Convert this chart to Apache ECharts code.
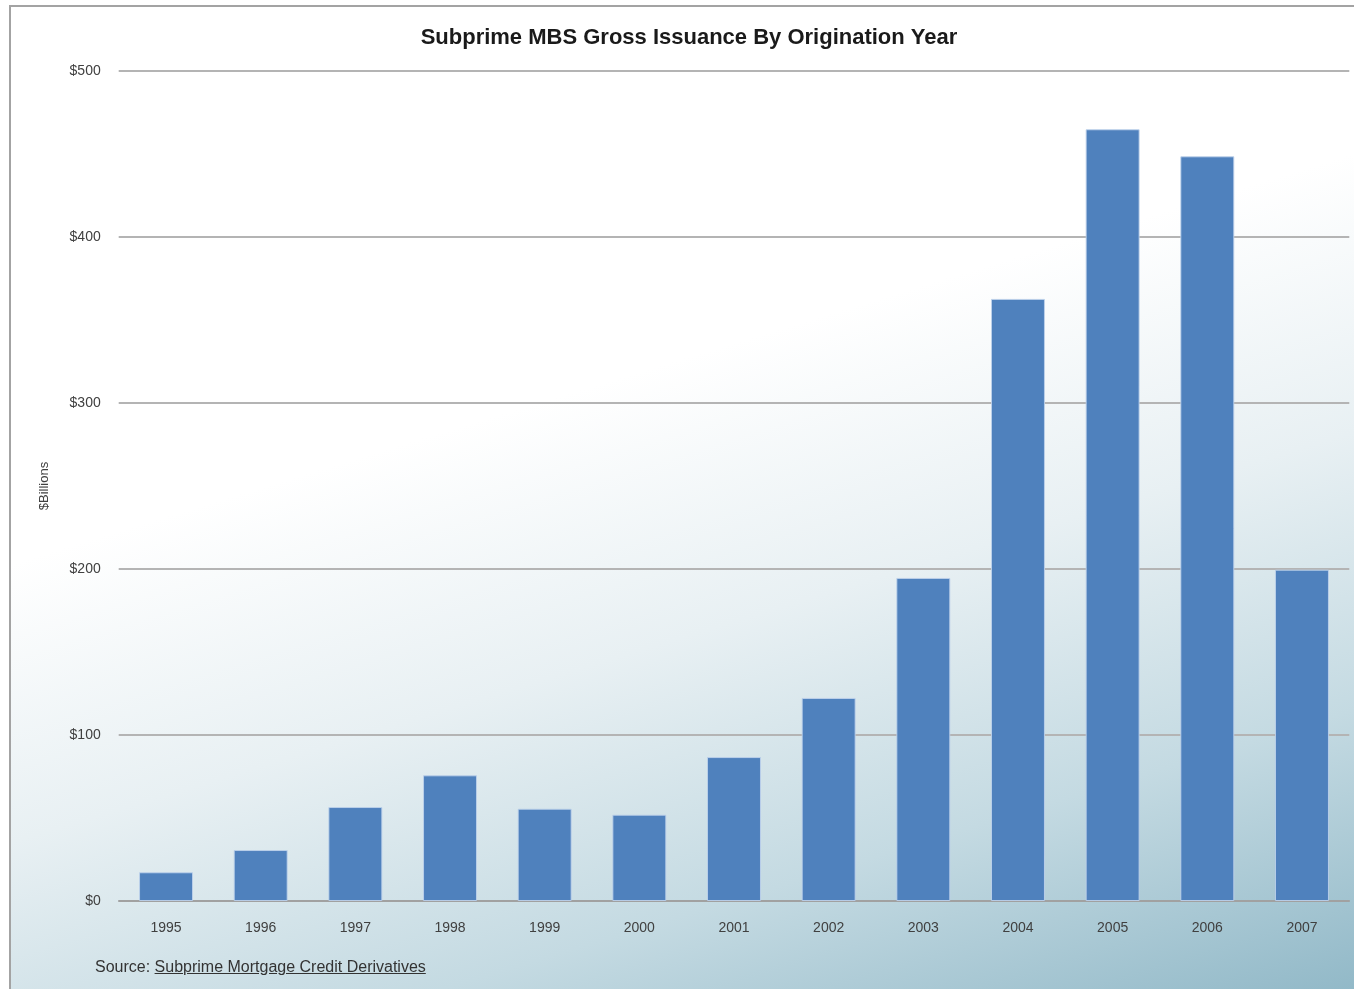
<!DOCTYPE html>
<html>
<head>
<meta charset="utf-8">
<script src="https://cdn.jsdelivr.net/npm/echarts@6/dist/echarts.min.js"></script>
<style>
  html, body { margin: 0; padding: 0; background: #ffffff; }
  .frame {
    position: absolute; left: 9px; top: 5px; width: 1345px; height: 984px;
    border-left: 2px solid #a3a3a3; border-top: 2px solid #a3a3a3;
    box-sizing: border-box;
    background: linear-gradient(163deg, #ffffff 0%, #ffffff 40%, #e8f0f3 60%, #c4dae2 80%, #92b9c8 100%);
  }
  #chart { position: absolute; left: 0; top: 0; width: 1354px; height: 989px; }
  .source {
    position: absolute; left: 95px; top: 958px;
    font-family: "Liberation Sans", Arial, sans-serif; font-size: 16px; color: #333;
  }
  .source span { text-decoration: underline; }
</style>
</head>
<body>
<div class="frame"></div>
<div id="chart"></div>
<div class="source">Source: <span>Subprime Mortgage Credit Derivatives</span></div>
<script>
// 数据
const years = ['1995', '1996', '1997', '1998', '1999', '2000', '2001', '2002', '2003', '2004', '2005', '2006', '2007']
const issuance = [17.3, 30.7, 56.6, 75.7, 55.6, 52, 86.7, 122.3, 194.6, 362.7, 464.9, 448.6, 199.6]
const yTicks = [0, 100, 200, 300, 400, 500]

const myChart = echarts.init(document.getElementById('chart'))

const font = '"Liberation Sans", Arial, sans-serif'

myChart.setOption({
  backgroundColor: 'transparent',
  animation: false,
  title: {
    text: 'Subprime MBS Gross Issuance By Origination Year',
    left: 684,
    top: 22,
    textAlign: 'center',
    textStyle: { fontFamily: font, fontSize: 22, fontWeight: 'bold', color: '#1a1a1a' }
  },
  grid: { left: 118.7, right: 4.7, top: 71, bottom: 88 },
  xAxis: {
    type: 'category',
    data: years,
    axisLine: { lineStyle: { color: '#9a9a9a', width: 1.5 } },
    axisTick: { show: false },
    axisLabel: { margin: 20, fontFamily: font, fontSize: 14, color: '#404040' }
  },
  yAxis: {
    type: 'value',
    min: yTicks[0],
    max: yTicks[yTicks.length - 1],
    interval: 100,
    name: '$Billions',
    nameLocation: 'middle',
    nameRotate: 90,
    nameGap: 68,
    nameTextStyle: { fontFamily: font, fontSize: 13, color: '#404040' },
    axisLine: { show: false },
    axisTick: { show: false },
    axisLabel: { margin: 18, fontFamily: font, fontSize: 14, color: '#404040', formatter: v => '$' + v },
    splitLine: { lineStyle: { color: '#b4b4b4', width: 2 } }
  },
  series: [
    {
      type: 'bar',
      data: issuance,
      barWidth: '57%',
      itemStyle: { color: '#4f81bd', borderColor: 'rgba(190,210,235,0.9)', borderWidth: 1 }
    }
  ]
})
</script>
</body>
</html>
